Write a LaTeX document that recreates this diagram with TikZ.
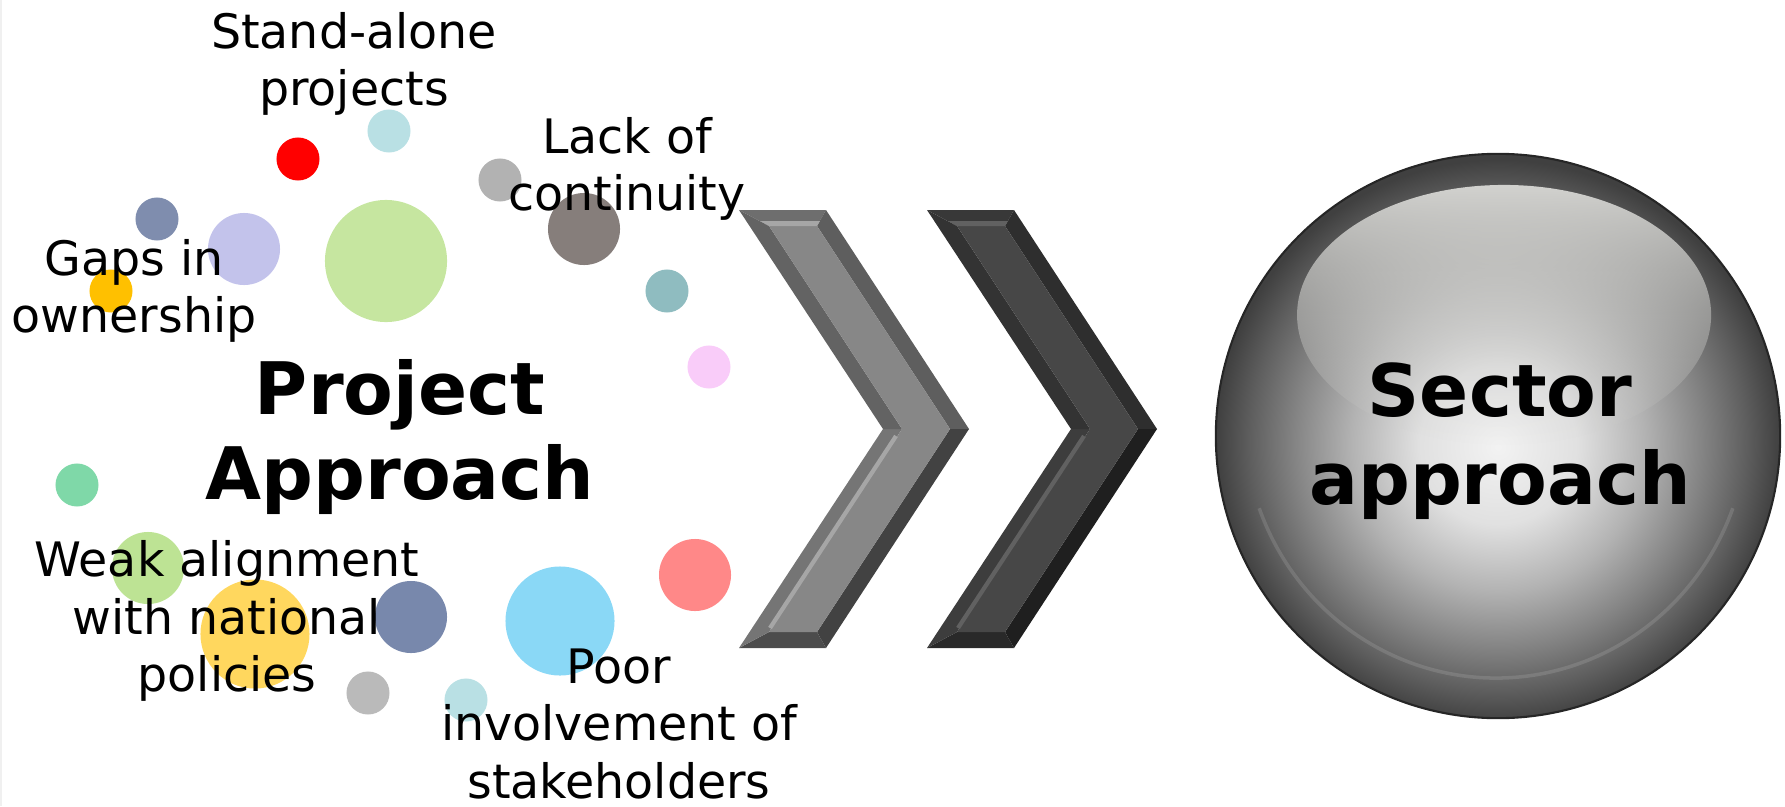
\documentclass[tikz,border=0pt]{standalone}
\usepackage{fontspec}
\setmainfont{DejaVu Sans}
\usetikzlibrary{fadings}

\definecolor{paleblue}{HTML}{B9E0E4}
\definecolor{slate}{HTML}{7F8DAE}
\definecolor{slatetwo}{HTML}{7888AC}
\definecolor{lavender}{HTML}{C3C3EB}
\definecolor{leaf}{HTML}{C6E6A0}
\definecolor{leaftwo}{HTML}{BDE394}
\definecolor{taupe}{HTML}{867E7B}
\definecolor{amber}{HTML}{FFC000}
\definecolor{teal}{HTML}{8FBCC0}
\definecolor{pink}{HTML}{F9CCF9}
\definecolor{mint}{HTML}{7FD8A8}
\definecolor{sun}{HTML}{FFD75E}
\definecolor{sky}{HTML}{8AD8F6}
\definecolor{salmon}{HTML}{FF8888}
\definecolor{hilite}{HTML}{D2D2CF}

\pgfdeclareradialshading{sphereshade}{\pgfpoint{0bp}{-1bp}}{color(0bp)=(black!5); color(7bp)=(black!12); color(13bp)=(black!30); color(18bp)=(black!48); color(22bp)=(black!63); color(25bp)=(black!75); color(50bp)=(black!75)}

\begin{document}
\begin{tikzpicture}[x=0.01cm,y=-0.01cm,
  bubble/.style={circle,inner sep=0pt,fill=#1},
  sbub/.style={bubble=#1,minimum size=0.43cm},
  mbub/.style={bubble=#1,minimum size=0.72cm},
  bbub/.style={bubble=#1,minimum size=1.09cm},
  lbl/.style={align=center,inner sep=0pt,font=\fontsize{13.5}{16.3}\selectfont},
  ttl/.style={align=center,inner sep=0pt,font=\fontsize{20.6}{24}\selectfont\bfseries}]

\useasboundingbox (0,0) rectangle (1785,806);
\draw[black!6,line width=0.6pt] (0.5,0) -- (0.5,806);

% bubbles
\node[sbub=paleblue] (b1) at (389,131) {};
\node[sbub=red] (b2) at (298,159) {};
\node[sbub=black!30] (b3) at (500,180) {};
\node[sbub=slate] (b4) at (157,219) {};
\node[mbub=lavender] (b5) at (244,249) {};
\node[bubble=leaf,minimum size=1.22cm] (b6) at (386,261) {};
\node[mbub=taupe] (b7) at (584,229) {};
\node[sbub=amber] (b8) at (111,291) {};
\node[sbub=teal] (b9) at (667,291) {};
\node[sbub=pink] (b10) at (709,367) {};
\node[sbub=mint] (b11) at (77,485) {};
\node[mbub=leaftwo] (b12) at (148,568) {};
\node[bbub=sun] (b13) at (255,634) {};
\node[mbub=slatetwo] (b14) at (411,617) {};
\node[bbub=sky] (b15) at (560,621) {};
\node[mbub=salmon] (b16) at (695,575) {};
\node[sbub=black!27] (b17) at (368,693) {};
\node[sbub=paleblue] (b18) at (466,700) {};

% chevrons
\foreach \dx/\body/\tp/\ul/\ur/\lr/\bt/\ll/\hl in {0/47/57/61/63/74/70/54/35, 188/72/78/80/82/88/84/76/62}{
  \begin{scope}[shift={(\dx,0)}]
    \coordinate (A) at (739,210); \coordinate (B) at (826,210);
    \coordinate (C) at (969,429); \coordinate (D) at (826,648);
    \coordinate (E) at (739,648); \coordinate (F) at (883,429);
    \coordinate (a) at (769,226); \coordinate (b) at (817,226);
    \coordinate (c) at (950,429); \coordinate (d) at (817,632);
    \coordinate (e) at (769,632); \coordinate (f) at (902,429);
    \fill[black!\tp] (A) -- (B) -- (b) -- (a) -- cycle;
    \fill[black!\ur] (B) -- (C) -- (c) -- (b) -- cycle;
    \fill[black!\lr] (C) -- (D) -- (d) -- (c) -- cycle;
    \fill[black!\bt] (D) -- (E) -- (e) -- (d) -- cycle;
    \fill[black!\ll] (E) -- (F) -- (f) -- (e) -- cycle;
    \fill[black!\ul] (F) -- (A) -- (a) -- (f) -- cycle;
    \fill[black!\body] (a) -- (b) -- (c) -- (d) -- (e) -- (f) -- cycle;
    \fill[black!\hl] (760,221) -- (820,221) -- (817,226) -- (769,226) -- cycle;
    \draw[black!\hl,line width=1.2pt] (896,436) -- (770,628);
  \end{scope}
}

% sphere
\node[circle,minimum size=5.64cm,inner sep=0pt,shading=sphereshade,draw=black!85,line width=0.6pt] (sphere) at (1498,436) {};
\draw[white,opacity=0.12,line width=1pt] (1496,420) ++(160:252 and 258) arc (160:20:252 and 258);
\fill[hilite,path fading=south] (1504,315) ellipse (207 and 130);
\node[ttl,font=\fontsize{20.6}{25}\selectfont\bfseries] (sectortxt) at (1500,441) {Sector\\approach};

% labels
\node[lbl] (standalone) at (354,64) {Stand-alone\\projects};
\node[lbl] (lack) at (627,169) {Lack of\\continuity};
\node[lbl] (gaps) at (134,291) {Gaps in\\ownership};
\node[ttl] (project) at (400,437) {Project\\Approach};
\node[lbl] (weak) at (227,621) {Weak alignment\\with national\\policies};
\node[lbl] (poor) at (619,724) {Poor\\involvement of\\stakeholders};

\end{tikzpicture}
\end{document}
